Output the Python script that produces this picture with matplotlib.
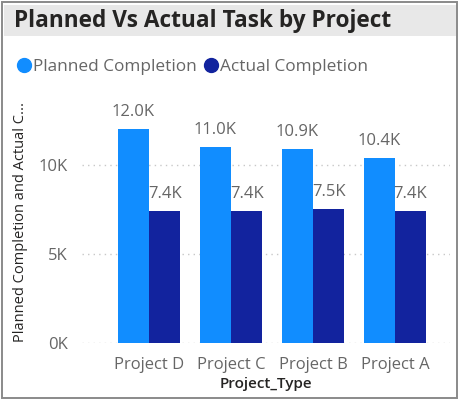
import matplotlib
matplotlib.use("Agg")
import matplotlib.pyplot as plt
from matplotlib.patches import Rectangle
from matplotlib.lines import Line2D
from matplotlib.ticker import FuncFormatter
import numpy as np

projects = ["Project D", "Project C", "Project B", "Project A"]
planned = [12000, 11000, 10900, 10400]
actual = [7400, 7400, 7500, 7400]
yticks = [0, 5000, 10000]

PLANNED_C = "#118DFF"
ACTUAL_C = "#12239E"
GREY = "#666666"

plt.rcParams["font.family"] = ["Open Sans", "DejaVu Sans"]

fig = plt.figure(figsize=(4.59, 4.0), dpi=100)

# outer frame and title band
fig.patches.append(Rectangle((0.005, 0.005), 0.99, 0.99, transform=fig.transFigure,
                             fill=False, ec="#8a8a8a", lw=1.4))
fig.patches.append(Rectangle((0.008, 0.91), 0.985, 0.078, transform=fig.transFigure,
                             fc="#e8e8e8", ec="none"))
fig.text(0.03, 0.948, "Planned Vs Actual Task by Project", fontsize=16.3,
         fontweight="bold", color="#252423", va="center")

ax = fig.add_axes([0.1786, 0.1425, 0.8014, 0.6075])
x = np.arange(len(projects))
w = 0.38
b1 = ax.bar(x - w / 2, planned, w, color=PLANNED_C)
b2 = ax.bar(x + w / 2, actual, w, color=ACTUAL_C)

def k(v):
    return f"{v / 1000:.1f}K"

for bars, vals in ((b1, planned), (b2, actual)):
    for r, v in zip(bars, vals):
        ax.text(r.get_x() + r.get_width() / 2, v + 520, k(v), ha="center",
                va="bottom", fontsize=12, color=GREY)

ax.set_xlim(-0.82, 3.67)
ax.set_ylim(0, 13650)
ax.set_yticks(yticks)
ax.yaxis.set_major_formatter(FuncFormatter(lambda v, p: f"{v / 1000:.0f}K"))
ax.grid(axis="y", linestyle=(0, (1, 3)), color="#c8c8c8", lw=1)
ax.set_axisbelow(True)
for s in ax.spines.values():
    s.set_visible(False)
ax.tick_params(length=0, labelsize=12, colors=GREY)
ax.set_xticks(x)
ax.set_xticklabels(projects)
ax.tick_params(axis="x", pad=10)
ax.tick_params(axis="y", pad=10)
ax.set_xlabel("Project_Type", fontsize=11, color="#252423", labelpad=3,
              fontweight="semibold")
ax.set_ylabel("Planned Completion and Actual C...", fontsize=10.5, color="#252423",
              labelpad=8)

# legend drawn with round markers
handles = [Line2D([], [], marker="o", ls="none", ms=10, color=PLANNED_C),
           Line2D([], [], marker="o", ls="none", ms=10, color=ACTUAL_C)]
fig.legend(handles, ["Planned Completion", "Actual Completion"], loc="center left",
           bbox_to_anchor=(0.025, 0.833), ncol=2, frameon=False, fontsize=12.4,
           labelcolor=GREY, handlelength=0.6, handletextpad=0.25, columnspacing=0.5,
           borderaxespad=0)

fig.savefig("out.png", dpi=100)
